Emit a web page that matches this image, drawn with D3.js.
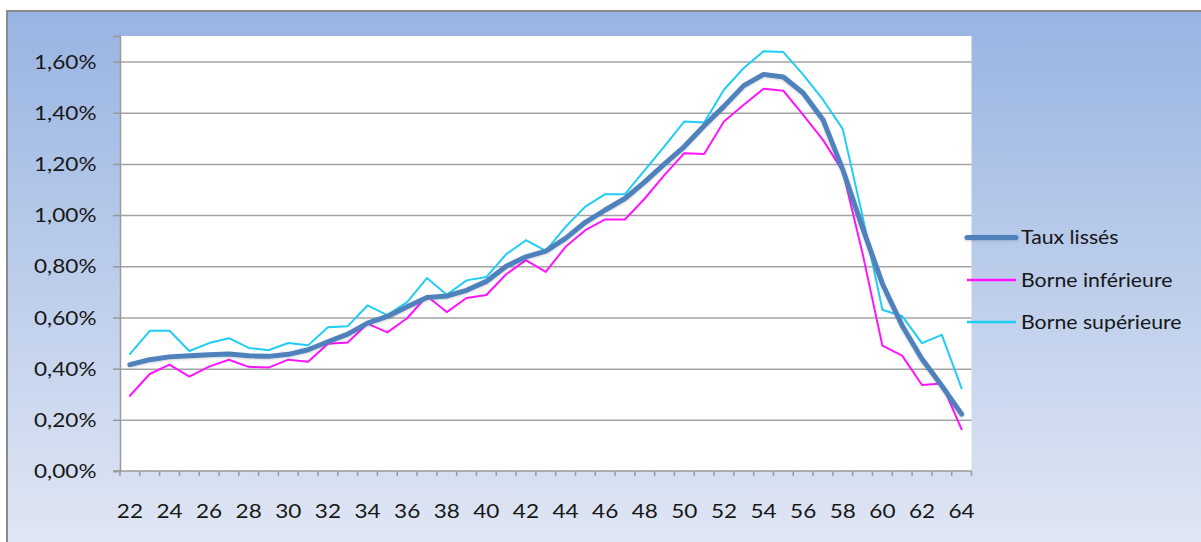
<!DOCTYPE html>
<html>
<head>
<meta charset="utf-8">
<script src="https://cdn.jsdelivr.net/npm/d3@7"></script>
<style>
  body { margin: 0; background: #fff; }
  text { font-family: Lato, "Open Sans", sans-serif; fill: #161616; }
</style>
</head>
<body>
<div id="chart"></div>
<script>
// ages (categories)
var ages = d3.range(22, 65);
var xLabels = ages.filter(function (a) { return a % 2 === 0; });
var yTicks = [0, 0.2, 0.4, 0.6, 0.8, 1.0, 1.2, 1.4, 1.6];

// values in %
var tauxLisses = [0.416, 0.435, 0.446, 0.45, 0.454, 0.457, 0.45, 0.448, 0.456, 0.474,
  0.505, 0.535, 0.578, 0.604, 0.642, 0.678, 0.684, 0.706, 0.741, 0.80,
  0.837, 0.859, 0.909, 0.972, 1.02, 1.065, 1.13, 1.20, 1.268, 1.349,
  1.425, 1.506, 1.55, 1.54, 1.477, 1.373, 1.178, 0.95, 0.732, 0.568,
  0.438, 0.333, 0.222];
var borneInf = [0.294, 0.379, 0.416, 0.369, 0.408, 0.435, 0.407, 0.404, 0.435, 0.427,
  0.497, 0.502, 0.576, 0.542, 0.597, 0.684, 0.621, 0.676, 0.688, 0.769,
  0.824, 0.778, 0.876, 0.941, 0.983, 0.983, 1.065, 1.157, 1.242, 1.239,
  1.366, 1.431, 1.494, 1.486, 1.392, 1.294, 1.172, 0.85, 0.49, 0.451,
  0.336, 0.342, 0.163];
var borneSup = [0.457, 0.548, 0.548, 0.469, 0.50, 0.519, 0.481, 0.472, 0.50, 0.491,
  0.562, 0.566, 0.647, 0.609, 0.66, 0.754, 0.689, 0.745, 0.758, 0.847,
  0.902, 0.86, 0.954, 1.033, 1.082, 1.082, 1.176, 1.27, 1.366, 1.362,
  1.49, 1.575, 1.64, 1.637, 1.549, 1.451, 1.336, 0.995, 0.63, 0.605,
  0.50, 0.532, 0.323];

var seriesNames = ["Taux lissés", "Borne inférieure", "Borne supérieure"];
var seriesColors = ["#4f81bd", "#ff14ff", "#1fcdf5"];
var seriesWidths = [5, 2, 2];
var seriesValues = [tauxLisses, borneInf, borneSup];

var W = 1201, H = 542;
var plot = {left: 120, right: 971.5, top: 36, bottom: 471};
var sx = 1.22; // horizontal stretch of the text

var svg = d3.select("#chart").append("svg")
    .attr("width", W).attr("height", H);

var defs = svg.append("defs");
var grad = defs.append("linearGradient").attr("id", "bg")
    .attr("x1", 0).attr("y1", 0).attr("x2", 0).attr("y2", 1);
grad.append("stop").attr("offset", "0%").attr("stop-color", "#98b4e2");
grad.append("stop").attr("offset", "100%").attr("stop-color", "#e1e7f4");

var shadow = defs.append("filter").attr("id", "shadow")
    .attr("filterUnits", "userSpaceOnUse")
    .attr("x", 0).attr("y", 0).attr("width", W).attr("height", H);
shadow.append("feGaussianBlur").attr("in", "SourceAlpha").attr("stdDeviation", 1).attr("result", "b");
shadow.append("feOffset").attr("in", "b").attr("dx", 0).attr("dy", 1.2).attr("result", "o");
shadow.append("feComponentTransfer").attr("in", "o").attr("result", "s")
    .append("feFuncA").attr("type", "linear").attr("slope", 0.18);
var merge = shadow.append("feMerge");
merge.append("feMergeNode").attr("in", "s");
merge.append("feMergeNode").attr("in", "SourceGraphic");

// chart area
svg.append("rect")
    .attr("x", 7).attr("y", 11).attr("width", W).attr("height", H)
    .attr("fill", "url(#bg)").attr("stroke", "#8a8a8a").attr("stroke-width", 2);

svg.append("rect")
    .attr("x", plot.left).attr("y", plot.top)
    .attr("width", plot.right - plot.left).attr("height", plot.bottom - plot.top)
    .attr("fill", "#fff");

var x = d3.scaleBand().domain(ages).range([plot.left, plot.right]);
var y = d3.scaleLinear().domain([0, 1.7]).range([plot.bottom, plot.top]);

var fmt = function (d) { return d3.format(".2f")(d).replace(".", ",") + "%"; };

// grid
svg.append("g")
    .attr("transform", "translate(" + plot.left + ",0)")
    .call(d3.axisLeft(y).tickValues(yTicks.slice(1)).tickSize(-(plot.right - plot.left)).tickFormat(""))
    .call(function (g) { g.select(".domain").remove(); })
    .selectAll("line").attr("stroke", "#a3a3a3").attr("stroke-width", 1.5);

// y axis
var yAxis = svg.append("g")
    .attr("transform", "translate(" + plot.left + ",0)")
    .call(d3.axisLeft(y).tickValues(yTicks).tickSize(7).tickPadding(0).tickFormat(fmt));
yAxis.select(".domain").attr("stroke", "#9a9a9a").attr("stroke-width", 1.5);
yAxis.selectAll("line").attr("stroke", "#9a9a9a").attr("stroke-width", 1.5);
yAxis.selectAll("text")
    .attr("x", 0).attr("dy", "0.36em")
    .attr("transform", "translate(-23.5,0) scale(" + sx + ",1)")
    .style("font-size", "18.5px");

// x axis: ticks between categories
var xAxis = svg.append("g")
    .attr("transform", "translate(0," + plot.bottom + ")");
xAxis.append("line")
    .attr("x1", plot.left - 7).attr("x2", plot.right)
    .attr("stroke", "#9a9a9a").attr("stroke-width", 1.5);
xAxis.selectAll(".tk").data(ages.concat(["end"])).enter().append("line")
    .attr("class", "tk")
    .attr("x1", function (d) { return d === "end" ? plot.right : x(d); })
    .attr("x2", function (d) { return d === "end" ? plot.right : x(d); })
    .attr("y1", 0).attr("y2", 5)
    .attr("stroke", "#9a9a9a").attr("stroke-width", 1.5);
xAxis.selectAll(".lbl").data(xLabels).enter().append("text")
    .attr("class", "lbl")
    .attr("text-anchor", "middle")
    .attr("transform", function (d) {
      return "translate(" + (x(d) + x.bandwidth() / 2) + ",46.5) scale(" + sx + ",1)";
    })
    .style("font-size", "18.5px")
    .text(function (d) { return d; });

// lines (draw bounds first, smooth on top)
var line = d3.line()
    .x(function (d, i) { return x(ages[i]) + x.bandwidth() / 2; })
    .y(function (d) { return y(d); });

[2, 1, 0].forEach(function (k) {
  svg.append("path")
      .datum(seriesValues[k])
      .attr("fill", "none")
      .attr("stroke", seriesColors[k])
      .attr("stroke-width", seriesWidths[k])
      .attr("stroke-linejoin", "round")
      .attr("stroke-linecap", "round")
      .attr("filter", k === 0 ? "url(#shadow)" : null)
      .attr("d", line);
});

// legend
var legend = svg.append("g");
var legY = [237.5, 280, 322];
seriesNames.forEach(function (name, i) {
  legend.append("line")
      .attr("x1", 967).attr("x2", 1016)
      .attr("y1", legY[i]).attr("y2", legY[i])
      .attr("stroke", seriesColors[i])
      .attr("stroke-width", seriesWidths[i] === 5 ? 5 : 2.5)
      .attr("stroke-linecap", i === 0 ? "round" : "butt")
      .attr("filter", i === 0 ? "url(#shadow)" : null);
  legend.append("text")
      .attr("transform", "translate(1021," + legY[i] + ") scale(1.15,1)")
      .attr("dy", "0.36em")
      .style("font-size", "18.5px")
      .text(name);
});
</script>
</body>
</html>
